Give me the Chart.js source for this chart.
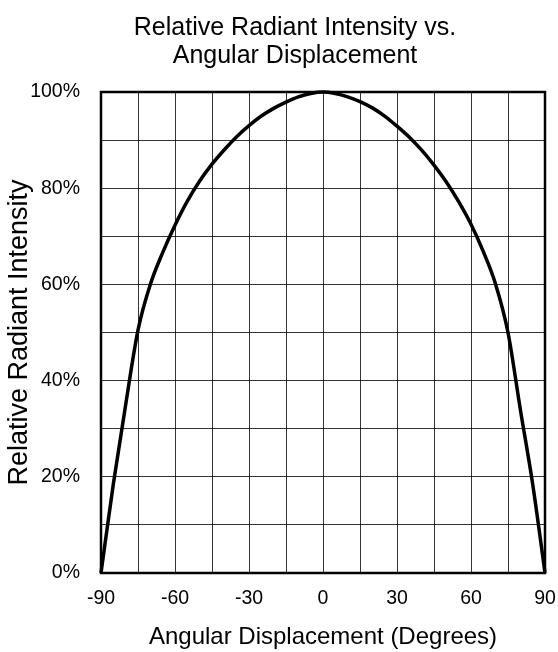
<!DOCTYPE html>
<html>
<head>
<meta charset="utf-8">
<script src="https://cdn.jsdelivr.net/npm/chart.js@4.4.0/dist/chart.umd.min.js"></script>
<style>
  html, body { margin: 0; padding: 0; background: #fff; }
  #wrap { width: 558px; height: 652px; }
</style>
</head>
<body>
<div id="wrap"><canvas id="intensityChart" width="558" height="652"></canvas></div>
<script>
// angle in degrees, relative intensity in %
var angles = [-90, -85, -80, -75, -70, -65, -60, -55, -50, -45, -40, -35, -30, -25, -20, -15, -10, -5,
              0, 5, 10, 15, 20, 25, 30, 35, 40, 45, 50, 55, 60, 65, 70, 75, 80, 85, 90];
var intensity = [0, 18.5, 35, 50.5, 60, 66.6, 72.3, 77.3, 81.5, 85, 88, 90.7, 93, 95, 96.6, 97.9, 99, 99.7,
                 100, 99.7, 99, 98, 96.7, 95, 92.9, 90.6, 87.9, 84.8, 81.3, 77.2, 72.5, 66.8, 60, 50, 34, 18.5, 0];
var xLabelStep = 30;
var yLabelStep = 20;
var chartTitle = ['Relative Radiant Intensity vs.', 'Angular Displacement'];

var FONT = "'Liberation Sans', Arial, sans-serif";

// frame round the plot + two-line title
var framePlugin = {
    id: 'frame',
    beforeDatasetsDraw: function (chart) {
        var a = chart.chartArea, ctx = chart.ctx;
        ctx.save();
        ctx.strokeStyle = '#000';
        ctx.lineWidth = 2.5;
        ctx.strokeRect(a.left, a.top, a.right - a.left, a.bottom - a.top);
        ctx.restore();
    },
    afterDraw: function (chart) {
        var ctx = chart.ctx;
        ctx.save();
        ctx.fillStyle = '#000';
        ctx.font = '25px ' + FONT;
        ctx.textAlign = 'center';
        ctx.textBaseline = 'alphabetic';
        ctx.fillText(chartTitle[0], 295, 35);
        ctx.fillText(chartTitle[1], 295, 63);
        ctx.restore();
    }
};

var points = angles.map(function (a, i) { return { x: a, y: intensity[i] }; });

new Chart(document.getElementById('intensityChart').getContext('2d'), {
    type: 'line',
    data: {
        datasets: [{
            data: points,
            borderColor: '#000',
            borderWidth: 3.5,
            pointRadius: 0,
            fill: false,
            cubicInterpolationMode: 'monotone',
            clip: false
        }]
    },
    options: {
        responsive: false,
        animation: false,
        layout: { padding: { top: 92, right: 13, left: 0, bottom: 0 } },
        plugins: {
            legend: { display: false },
            tooltip: { enabled: false },
            title: { display: false }
        },
        scales: {
            x: {
                type: 'linear',
                min: -90,
                max: 90,
                afterFit: function (s) { s.height = 79; s.paddingLeft = 0; s.paddingRight = 0; },
                ticks: {
                    stepSize: 15,
                    padding: 14,
                    color: '#000',
                    font: { family: FONT, size: 19.5 },
                    maxRotation: 0,
                    autoSkip: false,
                    callback: function (v) { return v % xLabelStep === 0 ? String(v) : ''; }
                },
                grid: { color: 'rgba(0,0,0,0.8)', lineWidth: 1, drawTicks: false },
                border: { display: false },
                title: {
                    display: true,
                    text: 'Angular Displacement (Degrees)',
                    color: '#000',
                    font: { family: FONT, size: 24 },
                    padding: { top: 0, bottom: 0 }
                }
            },
            y: {
                min: 0,
                max: 100,
                afterFit: function (s) { s.width = 101; s.paddingTop = 0; s.paddingBottom = 0; },
                ticks: {
                    stepSize: 10,
                    padding: 21,
                    color: '#000',
                    font: { family: FONT, size: 19.5 },
                    autoSkip: false,
                    callback: function (v) { return v % yLabelStep === 0 ? v + '%' : ''; }
                },
                grid: { color: 'rgba(0,0,0,0.8)', lineWidth: 1, drawTicks: false },
                border: { display: false },
                title: {
                    display: true,
                    text: 'Relative Radiant Intensity',
                    color: '#000',
                    font: { family: FONT, size: 27 },
                    padding: { top: 3, bottom: 0 }
                }
            }
        }
    },
    plugins: [framePlugin]
});
</script>
</body>
</html>
